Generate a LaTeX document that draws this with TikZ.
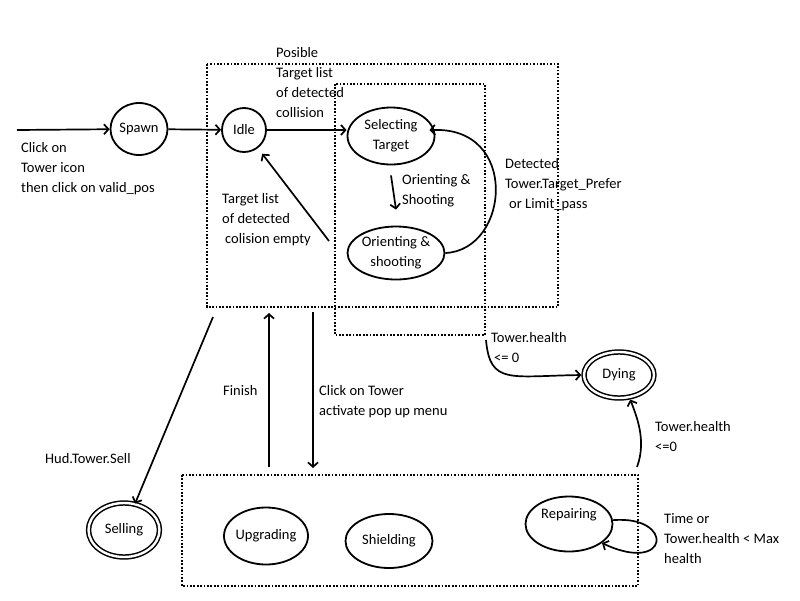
\documentclass[tikz,border=0pt]{standalone}
\usepackage{fontspec}
\setmainfont{Carlito}
\usetikzlibrary{shapes.geometric,arrows.meta}
\newcommand{\lblfont}{\fontsize{14.5}{20}\selectfont}
\begin{document}
\begin{tikzpicture}[x=1pt,y=-1pt,
  state/.style={ellipse,draw,line width=1.8pt,inner sep=0pt,align=center,font=\lblfont},
  final/.style={state,double,double distance=2.4pt,line width=1.5pt},
  frame/.style={line width=1.8pt,dash pattern=on 1.7pt off 1.7pt},
  tr/.style={line width=1.7pt,-{Straight Barb[length=4.5pt,width=10pt]}},
  lbl/.style={anchor=north west,inner sep=0pt,align=left,font=\lblfont}]
\useasboundingbox (0,0) rectangle (800,600);

% frames
\draw[frame] (207,64) rectangle (558,307);
\draw[frame] (335,84) rectangle (485,335);
\draw[frame] (182,475) rectangle (638,586);

% states
\node[state,minimum width=57pt,minimum height=52pt] (spawn) at (139,129) {Spawn};
\node[state,minimum width=44pt,minimum height=44pt] (idle) at (244,130) {Idle};
\node[state,minimum width=87pt,minimum height=57pt] (sel) at (391,136) {Selecting\\Target};
\node[state,inner xsep=-4pt,minimum width=97pt,minimum height=53pt] (ori) at (396,253) {Orienting \&\\shooting};
\node[final,minimum width=71pt,minimum height=54pt] (sell) at (124,530) {Selling};
\node[state,inner xsep=-5pt,minimum width=84pt,minimum height=57pt] (upg) at (266,536) {Upgrading};
\node[state,minimum width=87pt,minimum height=54pt] (shi) at (389,541) {Shielding};
\node[state,minimum width=87pt,minimum height=55pt] (rep) at (569,524) {\raisebox{20pt}{Repairing}};
\node[final,minimum width=70pt,minimum height=46pt] (dying) at (619,375) {Dying};

% free ends
\coordinate (in0) at (17,130);
\coordinate (e0) at (329,241);
\coordinate (s0) at (213,317);
\coordinate (f0) at (269,467);
\coordinate (f1) at (269,313);
\coordinate (k0) at (313,312);
\coordinate (k1) at (313,468);
\coordinate (h0) at (486,340);
\coordinate (h1) at (637,467);

% transitions
\draw[tr] (in0) -- (spawn);
\draw[tr] (spawn) -- (idle);
\draw[tr] (idle.east) -- (idle.east -| sel.west);
\draw[tr] ([yshift=-10pt]sel.south) -- ([yshift=16pt]ori.north);
\draw[tr,shorten >=-5pt] (ori.east) .. controls (510,250) and (520,125) .. (sel.8);
\draw[tr,shorten >=7pt] (e0) -- (idle);
\draw[tr] (s0) -- (sell);
\draw[tr] (f0) -- (f1);
\draw[tr] (k0) -- (k1);
\draw[tr,shorten >=2pt] (h0) .. controls (490,385) and (510,376) .. (dying.west);
\draw[tr,shorten >=2pt] (h1) .. controls (647,440) and (636,415) .. (dying.-65);
\draw[tr] (rep.5) .. controls (675,515) and (670,575) .. (rep.-30);

% labels
\node[lbl] (lclick) at (21,142) {Click on\\Tower icon\\then click on valid\_pos};
\node[lbl] (lpos) at (276,47) {Posible\\Target list\\of detected\\collision};
\node[lbl] (lempty) at (222,193) {Target list\\of detected\\\hspace{3pt}colision empty};
\node[lbl] (lori) at (402,174) {Orienting \&\\Shooting};
\node[lbl] (ldet) at (505,158) {Detected\\Tower.Target\_Prefer\\\hspace{4pt}or Limit\_pass};
\node[lbl] (lsell) at (45,453) {Hud.Tower.Sell};
\node[lbl] (lfin) at (223,385) {Finish};
\node[lbl] (lmenu) at (319,385) {Click on Tower\\activate pop up menu};
\node[lbl] (lh1) at (491,332) {Tower.health\\\hspace{3pt}<= 0};
\node[lbl] (lh2) at (655,421) {Tower.health\\<=0};
\node[lbl] (ltime) at (664,513) {Time or\\Tower.health < Max\\health};
\end{tikzpicture}
\end{document}
